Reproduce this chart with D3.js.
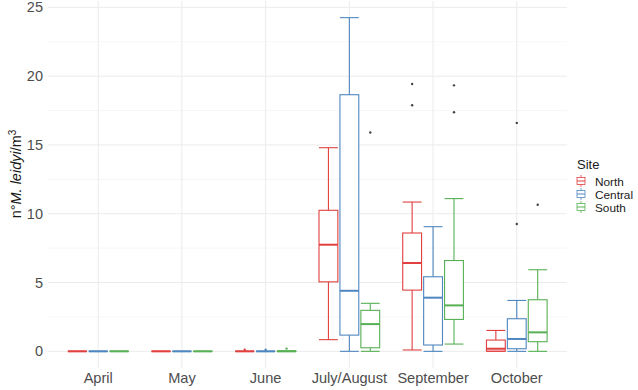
<!DOCTYPE html>
<html>
<head>
<meta charset="utf-8">
<script src="https://cdn.jsdelivr.net/npm/d3@7"></script>
<style>
  body { margin: 0; background: #fff; }
  svg text { font-family: "Liberation Sans", Arial, sans-serif; }
</style>
</head>
<body>
<div id="chart"></div>
<script>
// Categories
var months = ["April", "May", "June", "July/August", "September", "October"];
var sites = ["North", "Central", "South"];
var siteColors = ["#e0403f", "#4f87c0", "#58b055"];

// Five-number summaries per month: [lower whisker, Q1, median, Q3, upper whisker]
var northStats = [
  [0, 0, 0, 0, 0],
  [0, 0, 0, 0, 0],
  [0, 0, 0, 0, 0],
  [0.85, 5.05, 7.75, 10.25, 14.8],
  [0.1, 4.45, 6.42, 8.6, 10.85],
  [0, 0.02, 0.19, 0.82, 1.52]
];
var centralStats = [
  [0, 0, 0, 0, 0],
  [0, 0, 0, 0, 0],
  [0, 0, 0, 0, 0],
  [0, 1.18, 4.4, 18.65, 24.25],
  [0, 0.46, 3.9, 5.42, 9.06],
  [0, 0.19, 0.9, 2.37, 3.7]
];
var southStats = [
  [0, 0, 0, 0, 0],
  [0, 0, 0, 0, 0],
  [0, 0, 0, 0.02, 0.02],
  [0, 0.26, 1.98, 2.98, 3.49],
  [0.53, 2.32, 3.34, 6.6, 11.1],
  [0, 0.7, 1.38, 3.75, 5.93]
];

// Outliers: month, site, value
var outlierMonths = ["June", "June", "June", "July/August", "September", "September", "September", "September", "October", "October", "October"];
var outlierSites = ["North", "Central", "South", "South", "North", "North", "South", "South", "Central", "Central", "South"];
var outlierValues = [0.12, 0.12, 0.2, 15.9, 19.43, 17.88, 19.33, 17.37, 16.6, 9.25, 10.65];

var yTicks = [0, 5, 10, 15, 20, 25];
var yMinorTicks = [2.5, 7.5, 12.5, 17.5, 22.5];

var svgWidth = 638;
var svgHeight = 390;

var panel = { left: 48, right: 567, top: 1, bottom: 368 };

var svg = d3.select("#chart")
  .append("svg")
  .attr("width", svgWidth)
  .attr("height", svgHeight);

// Scales
var xScale = d3.scaleBand()
  .domain(months)
  .range([panel.left, panel.right])
  .paddingInner(0)
  .paddingOuter(0.1);

var step = xScale.step();

var siteScale = d3.scaleBand()
  .domain(sites)
  .range([-0.375 * step, 0.375 * step]);

var colorScale = d3.scaleOrdinal()
  .domain(sites)
  .range(siteColors);

var yScale = d3.scaleLinear()
  .domain([-1.21, 25.46])
  .range([panel.bottom, panel.top]);

var boxWidth = siteScale.bandwidth() * 0.9;

function centerX(month, site) {
  return xScale(month) + step / 2 + siteScale(site) + siteScale.bandwidth() / 2;
}

// Gridlines
var grid = svg.append("g");

grid.selectAll(".minor")
  .data(yMinorTicks)
  .enter()
  .append("line")
  .attr("x1", panel.left).attr("x2", panel.right)
  .attr("y1", d => yScale(d)).attr("y2", d => yScale(d))
  .attr("stroke", "#f2f2f2")
  .attr("stroke-width", 0.6);

grid.selectAll(".major")
  .data(yTicks)
  .enter()
  .append("line")
  .attr("x1", panel.left).attr("x2", panel.right)
  .attr("y1", d => yScale(d)).attr("y2", d => yScale(d))
  .attr("stroke", "#ebebeb")
  .attr("stroke-width", 1);

grid.selectAll(".vmajor")
  .data(months)
  .enter()
  .append("line")
  .attr("x1", d => xScale(d) + step / 2).attr("x2", d => xScale(d) + step / 2)
  .attr("y1", panel.top).attr("y2", panel.bottom)
  .attr("stroke", "#ebebeb")
  .attr("stroke-width", 1);

// Axes
var leftAxis = d3.axisLeft(yScale)
  .tickValues(yTicks)
  .tickSize(0)
  .tickPadding(5);

var yAxis = svg.append("g")
  .attr("transform", `translate(${panel.left}, 0)`)
  .call(leftAxis);
yAxis.select(".domain").remove();
yAxis.selectAll("text")
  .attr("fill", "#4d4d4d")
  .style("font-size", "14.5px")
  .style("font-family", "Liberation Sans, Arial, sans-serif");

var bottomAxis = d3.axisBottom(xScale)
  .tickSize(0)
  .tickPadding(4.5);

var xAxis = svg.append("g")
  .attr("transform", `translate(0, ${panel.bottom})`)
  .call(bottomAxis);
xAxis.select(".domain").remove();
xAxis.selectAll("text")
  .attr("fill", "#4d4d4d")
  .style("font-size", "14.6px")
  .style("font-family", "Liberation Sans, Arial, sans-serif");

// Boxplots
var statsBySite = { North: northStats, Central: centralStats, South: southStats };
var boxes = [];
sites.forEach(function(site) {
  statsBySite[site].forEach(function(s, i) {
    boxes.push({ month: months[i], site: site, lo: s[0], q1: s[1], med: s[2], q3: s[3], hi: s[4] });
  });
});

var boxGroup = svg.append("g")
  .selectAll("g")
  .data(boxes)
  .enter()
  .append("g")
  .attr("stroke", d => colorScale(d.site))
  .attr("fill", "none");

// whiskers
boxGroup.append("line")
  .attr("x1", d => centerX(d.month, d.site)).attr("x2", d => centerX(d.month, d.site))
  .attr("y1", d => yScale(d.hi)).attr("y2", d => yScale(d.q3))
  .attr("stroke-width", 1.1);
boxGroup.append("line")
  .attr("x1", d => centerX(d.month, d.site)).attr("x2", d => centerX(d.month, d.site))
  .attr("y1", d => yScale(d.q1)).attr("y2", d => yScale(d.lo))
  .attr("stroke-width", 1.1);

// caps
["hi", "lo"].forEach(function(k) {
  boxGroup.append("line")
    .attr("x1", d => centerX(d.month, d.site) - boxWidth / 2)
    .attr("x2", d => centerX(d.month, d.site) + boxWidth / 2)
    .attr("y1", d => yScale(d[k])).attr("y2", d => yScale(d[k]))
    .attr("stroke-width", 1.1);
});

// box
boxGroup.append("rect")
  .attr("x", d => centerX(d.month, d.site) - boxWidth / 2)
  .attr("width", boxWidth)
  .attr("y", d => yScale(d.q3))
  .attr("height", d => yScale(d.q1) - yScale(d.q3))
  .attr("fill", "#fff")
  .attr("stroke-width", 1.1);

// median
boxGroup.append("line")
  .attr("x1", d => centerX(d.month, d.site) - boxWidth / 2)
  .attr("x2", d => centerX(d.month, d.site) + boxWidth / 2)
  .attr("y1", d => yScale(d.med)).attr("y2", d => yScale(d.med))
  .attr("stroke-width", 2);

// Outliers
var outliers = outlierValues.map(function(v, i) {
  return { month: outlierMonths[i], site: outlierSites[i], value: v };
});

svg.append("g")
  .selectAll("circle")
  .data(outliers)
  .enter()
  .append("circle")
  .attr("cx", d => centerX(d.month, d.site))
  .attr("cy", d => yScale(d.value))
  .attr("r", 1.2)
  .attr("fill", d => d.value < 1 ? colorScale(d.site) : "#444");

// Y axis title
var yTitle = svg.append("text")
  .attr("transform", "translate(21, 174) rotate(-90)")
  .attr("text-anchor", "middle")
  .attr("fill", "#1a1a1a")
  .style("font-size", "14.5px");
yTitle.append("tspan").text("n°");
yTitle.append("tspan").style("font-style", "italic").text("M. leidyi");
yTitle.append("tspan").text("/m");
yTitle.append("tspan").attr("dy", "-5").style("font-size", "10px").text("3");

// Legend
var legend = svg.append("g")
  .attr("transform", "translate(577, 0)");

legend.append("text")
  .attr("x", 0)
  .attr("y", 169)
  .attr("fill", "#1a1a1a")
  .style("font-size", "13px")
  .text("Site");

var legendItems = legend.selectAll(".item")
  .data(sites)
  .enter()
  .append("g")
  .attr("transform", (d, i) => `translate(0, ${181 + i * 13})`);

legendItems.append("line")
  .attr("x1", 4).attr("x2", 4)
  .attr("y1", -6).attr("y2", 6)
  .attr("stroke", d => colorScale(d))
  .attr("stroke-width", 0.8);
legendItems.append("rect")
  .attr("x", 0).attr("y", -3.5)
  .attr("width", 8).attr("height", 7)
  .attr("fill", "#fff")
  .attr("stroke", d => colorScale(d))
  .attr("stroke-width", 0.8);
legendItems.append("line")
  .attr("x1", 0).attr("x2", 8)
  .attr("y1", 0).attr("y2", 0)
  .attr("stroke", d => colorScale(d))
  .attr("stroke-width", 1);

legendItems.append("text")
  .attr("x", 18)
  .attr("y", 4.5)
  .attr("fill", "#1a1a1a")
  .style("font-size", "11.8px")
  .text(d => d);
</script>
</body>
</html>
